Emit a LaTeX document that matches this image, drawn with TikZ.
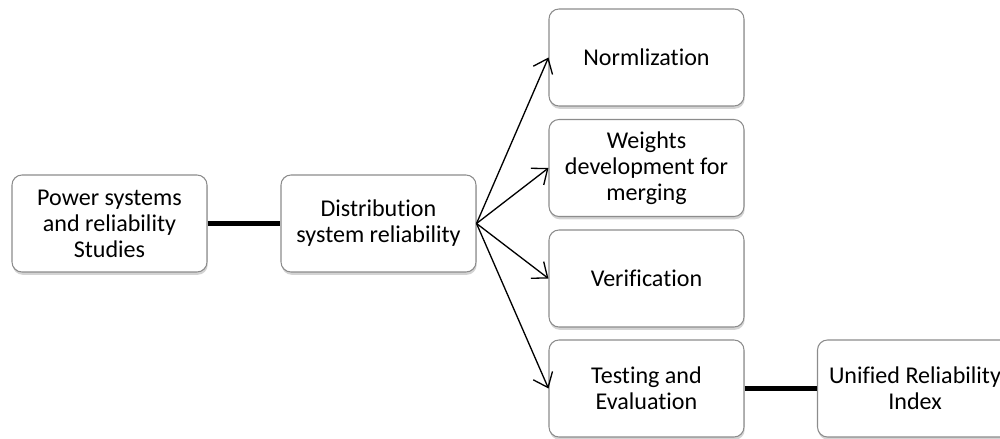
\documentclass[tikz,border=0pt]{standalone}
\usepackage{fontspec}
\setmainfont[Ligatures=NoCommon]{Carlito}
\usetikzlibrary{arrows.meta,shadows}
\tikzset{
  stagebox/.style={draw=black!45,line width=0.6pt,fill=white,rounded corners=0.2cm,
    minimum width=3.9cm,minimum height=1.94cm,align=center,inner sep=2pt,
    font=\fontsize{13.7}{14.8}\selectfont,
    drop shadow={opacity=0.35,shadow xshift=0.4pt,shadow yshift=-1.6pt}},
  fanarrow/.style={line width=0.75pt,-{Straight Barb[length=2.6mm,width=4.2mm]}},
  boldlink/.style={line width=2.8pt}
}
\begin{document}
\begin{tikzpicture}
   \useasboundingbox (0,0) rectangle (20,-8.78);
   \node [stagebox] (power) at (2.19,-4.47) {Power systems\\and reliability\\Studies};
   \node [stagebox] (dist) at (7.57,-4.47) {Distribution\\system reliability};
   \node [stagebox] (norm) at (12.93,-1.15) {Normlization};
   \node [stagebox] (weights) at (12.93,-3.36) {Weights\\development for\\merging};
   \node [stagebox] (verif) at (12.93,-5.57) {Verification};
   \node [stagebox] (testing) at (12.93,-7.77) {Testing and\\Evaluation};
   \node [stagebox] (unified) at (18.3,-7.77) {Unified Reliability\\Index};
   \draw [boldlink] (power.east) -- (dist.west);
   \draw [boldlink] (testing.east) -- (unified.west);
   \foreach \target in {norm,weights,verif,testing}
     \draw [fanarrow] (dist.east) -- (\target.west);
\end{tikzpicture}
\end{document}
